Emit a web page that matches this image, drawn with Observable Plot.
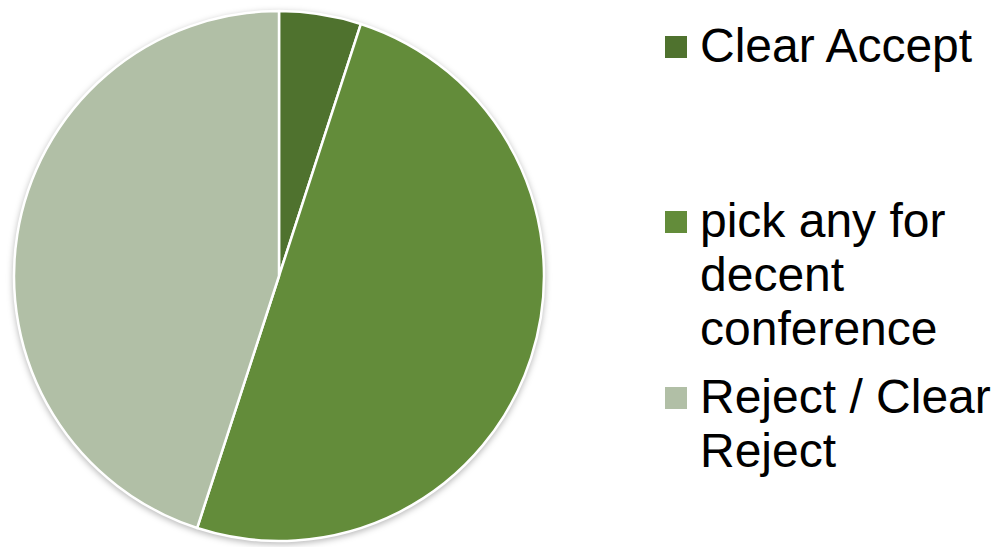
<!DOCTYPE html>
<html>
<head>
<meta charset="utf-8">
<script src="https://cdn.jsdelivr.net/npm/d3@7"></script>
<script src="https://cdn.jsdelivr.net/npm/@observablehq/plot@0.6"></script>
<style>
  html, body { margin: 0; padding: 0; background: #fff; }
  #wrap { position: relative; width: 994px; height: 547px; overflow: hidden; }
  .legend-item { position: absolute; left: 665px; width: 329px; font-family: "Liberation Sans", Arial, sans-serif; font-size: 48px; line-height: 54px; color: #000; }
  .legend-item .sw { position: absolute; left: 0; width: 22px; height: 22px; }
  .legend-item .tx { position: absolute; left: 35px; width: 294px; }
</style>
</head>
<body>
<div id="wrap"></div>
<script>
const categories = ["Clear Accept", "pick any for decent conference", "Reject / Clear Reject"];
const values = [5, 50, 45];
const colors = ["#4f722e", "#638c3a", "#b1bfa6"];

const data = categories.map((c, i) => ({category: c, value: values[i]}));

const cx = 279, cy = 276, radius = 265;

// invisible mark so Plot builds the categorical colour scale
const colorCarrier = Plot.dot(data, {fill: "category", r: 0});

// pie slices drawn with Plot's colour scale
function pieMark(index, scales) {
  const color = scales && scales.color ? scales.color : d3.scaleOrdinal(categories, colors);
  const pie = d3.pie().sort(null).value(d => d.value);
  const arcs = pie(data);
  const arc = d3.arc().innerRadius(0).outerRadius(radius);
  const g = d3.create("svg:g")
    .attr("transform", `translate(${cx},${cy})`)
    .style("filter", "drop-shadow(0px 2px 3px rgba(0,0,0,0.28))");
  g.selectAll("path")
    .data(arcs)
    .join("path")
    .attr("d", arc)
    .attr("fill", a => color(a.data.category))
    .attr("stroke", "#ffffff")
    .attr("stroke-width", 2.5)
    .attr("stroke-linejoin", "round");
  return g.node();
}

const chart = Plot.plot({
  width: 994,
  height: 547,
  margin: 0,
  x: {axis: null},
  y: {axis: null},
  color: {domain: categories, range: colors},
  marks: [colorCarrier, pieMark]
});
chart.style.position = "absolute";
chart.style.left = "0";
chart.style.top = "0";
const wrap = document.getElementById("wrap");
wrap.appendChild(chart);

// legend
const legendTops = [19, 194, 370];
const colorScale = chart.scale("color");
categories.forEach((c, i) => {
  const item = document.createElement("div");
  item.className = "legend-item";
  item.style.top = legendTops[i] + "px";
  const sw = document.createElement("div");
  sw.className = "sw";
  sw.style.top = "17px";
  sw.style.background = colorScale.apply(c);
  const tx = document.createElement("div");
  tx.className = "tx";
  tx.textContent = c;
  item.appendChild(sw);
  item.appendChild(tx);
  wrap.appendChild(item);
});
</script>
</body>
</html>
